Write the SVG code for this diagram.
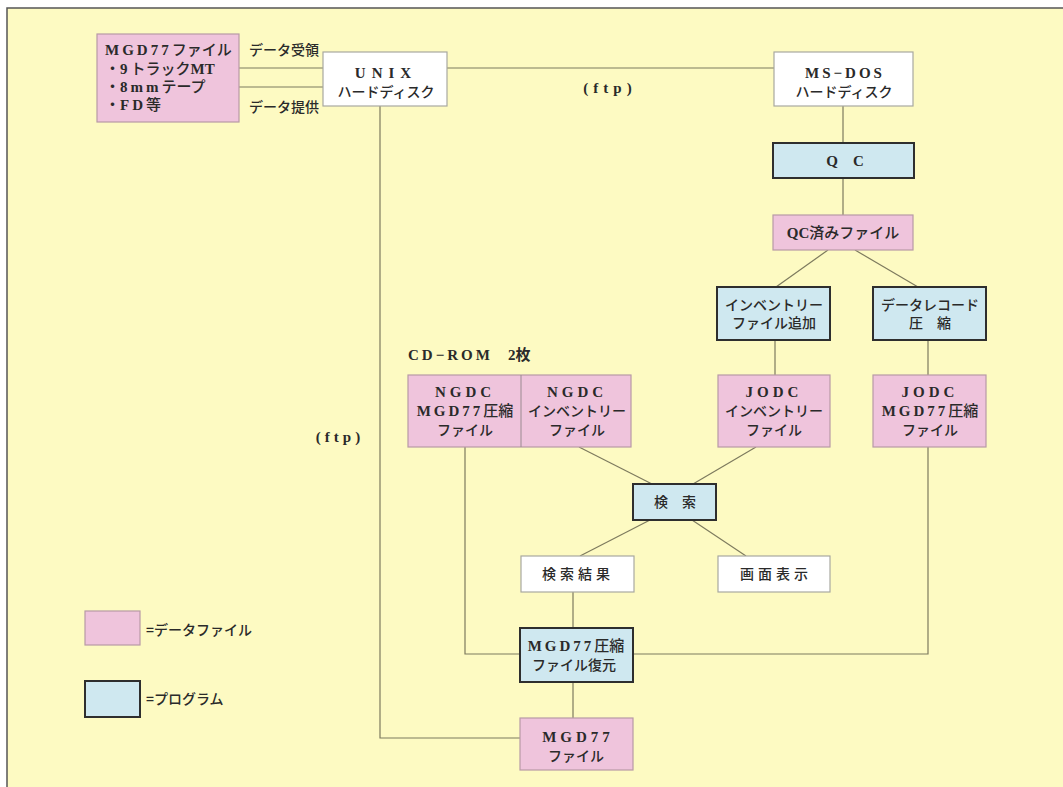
<svg xmlns="http://www.w3.org/2000/svg" width="1063" height="787" viewBox="0 0 1063 787">
<style>
.bg{fill:#fdfac2}
.data{fill:#efc4dc;stroke:#b79aa6;stroke-width:1.2}
.prog{fill:#cfe8f0;stroke:#2e2e2e;stroke-width:2}
.plain{fill:#ffffff;stroke:#a8a8a0;stroke-width:1.2}
.t{font-family:"Liberation Serif","Noto Sans CJK JP",serif;font-size:15px;fill:#2a2a2a;font-weight:500}
.b{font-weight:bold}
.s{font-family:"Noto Sans CJK JP","Liberation Sans",sans-serif;font-size:14px;fill:#2a2a2a;font-weight:500}
.c{text-anchor:middle}
.ls{letter-spacing:3px}
#connectors line,#connectors polyline{stroke:#7d7a5e;stroke-width:1.2;fill:none}
</style>
<rect x="0" y="0" width="1063" height="787" fill="#ffffff"/>
<rect class="bg" x="7" y="8" width="1056" height="779"/>
<path d="M7,787 V8 H1063" fill="none" stroke="#555" stroke-width="1.5"/>

<g id="connectors">
<line x1="239" y1="68" x2="323" y2="68"/>
<line x1="239" y1="87" x2="323" y2="87"/>
<line x1="447" y1="68" x2="774" y2="68"/>
<line x1="843" y1="106" x2="843" y2="143"/>
<line x1="843" y1="178" x2="843" y2="215"/>
<line x1="828" y1="250" x2="776" y2="287"/>
<line x1="855" y1="250" x2="918" y2="287"/>
<line x1="775" y1="340" x2="775" y2="375"/>
<line x1="928" y1="340" x2="928" y2="375"/>
<line x1="579" y1="447" x2="652" y2="484"/>
<line x1="756" y1="447" x2="693" y2="484"/>
<line x1="650" y1="520" x2="580" y2="556"/>
<line x1="692" y1="520" x2="746" y2="556"/>
<line x1="573" y1="592" x2="573" y2="628"/>
<line x1="573" y1="682" x2="573" y2="718"/>
<polyline points="465,447 465,654 520,654"/>
<polyline points="633,654 928,654 928,447"/>
<polyline points="380,106 380,738 520,738"/>
</g>

<g id="n_mgd77src">
<rect class="data" x="97" y="34" width="142" height="88"/>
<text class="t" x="105" y="55"><tspan class="ls b">MGD77</tspan>ファイル</text>
<text class="t" x="105" y="74">・<tspan class="ls b">9</tspan>トラック<tspan class="b">MT</tspan></text>
<text class="t" x="105" y="92">・<tspan class="ls b">8mm</tspan>テープ</text>
<text class="t" x="105" y="110">・<tspan class="ls b">FD</tspan>等</text>
</g>
<g id="lbl_recv"><text class="s" x="249" y="55" font-size="13">データ受領</text></g>
<g id="lbl_prov"><text class="s" x="249" y="112" font-size="13">データ提供</text></g>

<g id="n_unix">
<rect class="plain" x="323" y="52" width="124" height="54"/>
<text class="t c b" x="386" y="78" letter-spacing="6">UNIX</text>
<text class="s c" x="386" y="97" font-size="15">ハードディスク</text>
</g>
<g id="lbl_ftp1"><text class="t c b" x="610" y="93" letter-spacing="5">(ftp)</text></g>

<g id="n_msdos">
<rect class="plain" x="774" y="52" width="139" height="54"/>
<text class="t c b" x="845" y="78" letter-spacing="3">MS−DOS</text>
<text class="s c" x="844" y="97">ハードディスク</text>
</g>

<g id="n_qc">
<rect class="prog" x="773" y="143" width="141" height="35"/>
<text class="t c b" x="845" y="166">Q　C</text>
</g>

<g id="n_qcdone">
<rect class="data" x="773" y="215" width="140" height="35"/>
<text class="t c" x="843" y="238"><tspan class="b">QC</tspan>済みファイル</text>
</g>

<g id="n_invadd">
<rect class="prog" x="717" y="287" width="113" height="53"/>
<text class="s c" x="774" y="310">インベントリー</text>
<text class="s c" x="774" y="328">ファイル追加</text>
</g>

<g id="n_compress">
<rect class="prog" x="873" y="287" width="113" height="53"/>
<text class="s c" x="930" y="310">データレコード</text>
<text class="s c" x="930" y="328">圧　縮</text>
</g>

<g id="lbl_cdrom"><text class="t b" x="408" y="360"><tspan class="ls">CD−ROM</tspan>　2枚</text></g>

<g id="n_ngdc">
<rect class="data" x="408" y="375" width="223" height="72"/>
<line x1="521" y1="375" x2="521" y2="447" stroke="#9a8a90" stroke-width="1"/>
<text class="t c b" x="465" y="397" letter-spacing="4">NGDC</text>
<text class="t c" x="465" y="416"><tspan class="ls b">MGD77</tspan>圧縮</text>
<text class="s c" x="465" y="435">ファイル</text>
<text class="t c b" x="577" y="397" letter-spacing="4">NGDC</text>
<text class="s c" x="577" y="416">インベントリー</text>
<text class="s c" x="577" y="435">ファイル</text>
</g>

<g id="n_jodcinv">
<rect class="data" x="718" y="375" width="112" height="72"/>
<text class="t c b" x="774" y="397" letter-spacing="4">JODC</text>
<text class="s c" x="774" y="416">インベントリー</text>
<text class="s c" x="774" y="435">ファイル</text>
</g>

<g id="n_jodcmgd">
<rect class="data" x="873" y="375" width="113" height="72"/>
<text class="t c b" x="930" y="397" letter-spacing="4">JODC</text>
<text class="t c" x="930" y="416"><tspan class="ls b">MGD77</tspan>圧縮</text>
<text class="s c" x="930" y="435">ファイル</text>
</g>

<g id="lbl_ftp2"><text class="t c b" x="340" y="442" letter-spacing="4">(ftp)</text></g>

<g id="n_search">
<rect class="prog" x="633" y="484" width="83" height="36"/>
<text class="s c" x="675" y="507">検　索</text>
</g>

<g id="n_result">
<rect class="plain" x="521" y="556" width="113" height="36"/>
<text class="s c" x="578" y="579" letter-spacing="4">検索結果</text>
</g>

<g id="n_display">
<rect class="plain" x="718" y="556" width="112" height="36"/>
<text class="s c" x="776" y="579" letter-spacing="4">画面表示</text>
</g>

<g id="n_restore">
<rect class="prog" x="520" y="628" width="113" height="54"/>
<text class="t c" x="576" y="651"><tspan class="ls b">MGD77</tspan>圧縮</text>
<text class="s c" x="574" y="670">ファイル復元</text>
</g>

<g id="n_mgd77">
<rect class="data" x="520" y="718" width="113" height="52"/>
<text class="t c b" x="578" y="742" letter-spacing="4">MGD77</text>
<text class="s c" x="576" y="761">ファイル</text>
</g>

<g id="legend">
<rect class="data" x="85" y="611" width="55" height="34"/>
<text class="s" x="146" y="635">=データファイル</text>
<rect class="prog" x="85" y="681" width="55" height="36"/>
<text class="s" x="146" y="704">=プログラム</text>
</g>
</svg>
